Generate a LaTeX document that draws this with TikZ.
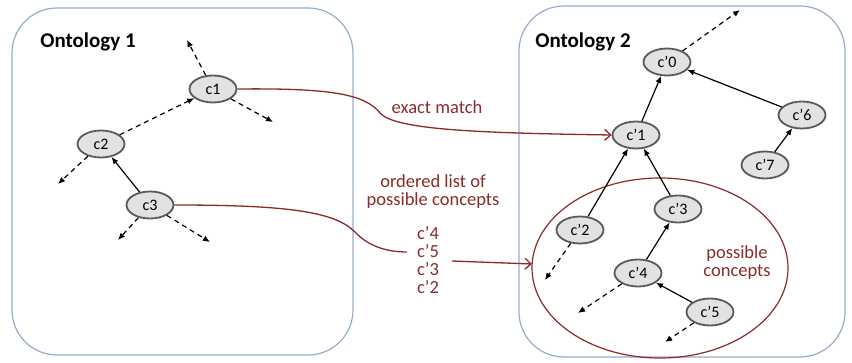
\documentclass[tikz,border=0pt]{standalone}
\usepackage{fontspec}
\setmainfont{Carlito}
\usetikzlibrary{arrows.meta,shapes.geometric,calc}
\definecolor{boxblue}{RGB}{150,172,205}
\definecolor{matchred}{RGB}{140,42,42}
\definecolor{nodegray}{RGB}{226,226,226}
\definecolor{rimgray}{RGB}{90,90,90}

\begin{document}
\begin{tikzpicture}[x=1pt,y=1pt,
	concept/.style={ellipse,draw=rimgray,fill=nodegray,line width=1.8pt,minimum width=47pt,minimum height=27pt,inner sep=0pt,font=\fontsize{16}{16}\selectfont},
	isa/.style={line width=1.2pt,-{Latex[length=7pt,width=6pt]}},
	more/.style={isa,dash pattern=on 5pt off 4pt},
	link/.style={draw=matchred,line width=1.3pt,-{Straight Barb[length=6pt,width=11pt]}},
	redtext/.style={text=matchred,font=\fontsize{18.5}{18}\selectfont,align=center}]
			%%%%% START %%%%%
			\useasboundingbox (0,0) rectangle (852,362);
			
			\draw[boxblue, line width=1.2pt, rounded corners=45pt] (12,7) rectangle (353,354);
			\draw[boxblue, line width=1.2pt, rounded corners=45pt] (519,5) rectangle (845,356);
			\node[font=\fontsize{21}{21}\selectfont\bfseries] (onto1) at (88,320) {Ontology 1};
			\node[font=\fontsize{21}{21}\selectfont\bfseries] (onto2) at (583,320) {Ontology 2};
			
			% ontology 1
			\node[concept] (c1) at (213,273) {c1};
			\node[concept] (c2) at (101,218) {c2};
			\node[concept] (c3) at (150,157) {c3};
			\coordinate (c1up) at (187,322);
			\coordinate (c1dn) at (273,240);
			\coordinate (c2dn) at (58,178);
			\coordinate (c3l) at (118,122);
			\coordinate (c3r) at (210,120);
			\draw[more] (c2) -- (c1);
			\draw[isa] (c3) -- (c2);
			\draw[more] (c1) -- (c1up);
			\draw[more] (c1) -- (c1dn);
			\draw[more] (c2) -- (c2dn);
			\draw[more] (c3) -- (c3l);
			\draw[more] (c3) -- (c3r);
			
			% ontology 2
			\draw[matchred, line width=1.2pt] (660,94) ellipse (128 and 90);
			\node[redtext] (poss) at (737,99) {possible\\concepts};
			\node[concept] (d0) at (667,300) {c’0};
			\node[concept] (d1) at (636,227) {c’1};
			\node[concept] (d6) at (802,247) {c’6};
			\node[concept] (d7) at (765,197) {c’7};
			\node[concept] (d2) at (580,132) {c’2};
			\node[concept] (d3) at (678,153) {c’3};
			\node[concept] (d4) at (638,89) {c’4};
			\node[concept] (d5) at (710,50) {c’5};
			\coordinate (d0up) at (740,352);
			\coordinate (d2dn) at (545,82);
			\coordinate (d4dn) at (578,49);
			\coordinate (d5dn) at (665,20);
			\draw[isa] (d1) -- (d0);
			\draw[isa] (d6) -- (d0);
			\draw[isa] (d7) -- (d6);
			\draw[isa] (d2) -- (d1);
			\draw[isa] (d3) -- (d1);
			\draw[isa] (d4) -- (d3);
			\draw[isa] (d5) -- (d4);
			\draw[more] (d0) -- (d0up);
			\draw[more] (d2) -- (d2dn);
			\draw[more] (d4) -- (d4dn);
			\draw[more] (d5) -- (d5dn);
			
			% matches
			\node[redtext] (exact) at (437,255) {exact match};
			\node[redtext] (order) at (433,170) {ordered list of\\possible concepts};
			\node[redtext] (list) at (428,102) {c’4\\c’5\\c’3\\c’2};
			\coordinate (listin) at (407,110);
			\coordinate (listout) at (452,101);
			\coordinate (circin) at (532,98);
			\draw[link] (c1.east) .. controls (330,274) and (365,268) .. (380,249) .. controls (395,232) and (480,229) .. (d1.west);
			\draw[matchred, line width=1.3pt] (c3.east) .. controls (290,157) and (335,150) .. (355,130) .. controls (370,114) and (390,110) .. (listin);
			\draw[link] (listout) -- (circin);
			
			%%%%% END %%%%%
\end{tikzpicture}
\end{document}
